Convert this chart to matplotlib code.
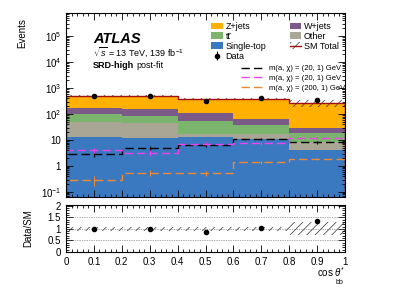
import numpy as np
import matplotlib
matplotlib.use("Agg")
import matplotlib.pyplot as plt
from matplotlib.patches import Patch
from matplotlib.lines import Line2D
from matplotlib.ticker import MultipleLocator, LogLocator, FixedLocator, FixedFormatter, NullFormatter

plt.rcParams['font.family'] = ['Liberation Sans', 'DejaVu Sans']
plt.rcParams['mathtext.fontset'] = 'custom'
plt.rcParams['mathtext.rm'] = 'Liberation Sans'
plt.rcParams['mathtext.it'] = 'Liberation Sans:italic'
plt.rcParams['hatch.linewidth'] = 0.5

# binning in cos theta*_bb
edges = [0.0, 0.2, 0.4, 0.6, 0.8, 1.0]
centers = [0.1, 0.3, 0.5, 0.7, 0.9]
xticklabels = ["0", "0.1", "0.2", "0.3", "0.4", "0.5", "0.6", "0.7", "0.8", "0.9", "1"]

# post-fit backgrounds (stacked bottom -> top)
single_top = [13.4, 12.4, 12.7, 11.0, 4.1]
other = [36.6, 31.6, 3.8, 6.0, 4.5]
ttbar = [50.0, 42.0, 38.5, 21.0, 9.7]
wjets = [75.0, 69.0, 52.0, 26.0, 9.7]
zjets = [325.0, 345.0, 273.0, 316.0, 237.0]
sm_rel_unc = [0.10, 0.10, 0.10, 0.10, 0.28]

data = [495.0, 505.0, 327.0, 402.0, 352.0]

# signals
sig_a = [2.9, 4.8, 6.2, 11.0, 8.2]      # (20, 1) black
sig_a_err = [0.7, 0.9, 1.0, 1.3, 1.2]
sig_b = [4.0, 3.2, 7.3, 7.4, 11.6]      # (20, 1) magenta
sig_b_err = [0.9, 0.8, 1.1, 1.1, 1.4]
sig_c = [0.29, 0.55, 0.52, 1.38, 1.8]   # (200, 1) orange
sig_c_err = [0.12, 0.12, 0.10, 0.15, 0.15]

bkgs = [
    ("Single-top", single_top, "#3a78c0"),
    ("Other", other, "#a9a696"),
    ("ttbar", ttbar, "#7bb46c"),
    ("W+jets", wjets, "#7c5a88"),
    ("Z+jets", zjets, "#ffb000"),
]

fig = plt.figure(figsize=(3.99, 2.88), dpi=100)
ax = fig.add_axes([66/399, 1-197/288, 279/399, 184/288])
rax = fig.add_axes([66/399, 1-252/288, 279/399, 47/288])

# stacked backgrounds
base = np.zeros(5)
patches = {}
for name, vals, col in bkgs:
    top = base + np.array(vals)
    ax.stairs(top, edges, baseline=base, fill=True, color=col, lw=0)
    patches[name] = Patch(facecolor=col, edgecolor='none')
    base = top
sm = base
unc = np.array(sm_rel_unc)

ax.stairs(sm*(1+unc), edges, baseline=sm*(1-unc), fill=True, facecolor='none',
          edgecolor='#333333', hatch='////', lw=0)
ax.stairs(sm, edges, color='#a01010', lw=1.0)

# signals
dash = (6, 3)
for vals, errs, col in [(sig_a, sig_a_err, 'black'), (sig_b, sig_b_err, '#ee44ee'),
                        (sig_c, sig_c_err, '#f08a30')]:
    ax.stairs(vals, edges, color=col, lw=1.0, linestyle=(0, dash))
    ax.errorbar(centers, vals, yerr=errs, fmt='none', ecolor=col, elinewidth=0.8)

# data
derr = np.sqrt(data)
dh = ax.errorbar(centers, data, yerr=derr, fmt='o', color='black', ms=3, elinewidth=0.8)

ax.set_yscale('log')
ax.set_ylim(0.064, 7.7e5)
ax.set_xlim(0, 1)
ax.yaxis.set_major_locator(FixedLocator([1e-1, 1, 10, 1e2, 1e3, 1e4, 1e5]))
ax.yaxis.set_major_formatter(FixedFormatter([r"$10^{-1}$", "1", "10", r"$10^{2}$",
                                             r"$10^{3}$", r"$10^{4}$", r"$10^{5}$"]))
ax.yaxis.set_minor_locator(LogLocator(base=10, subs=np.arange(2, 10), numticks=20))
ax.yaxis.set_minor_formatter(NullFormatter())
ax.xaxis.set_major_locator(MultipleLocator(0.1))
ax.xaxis.set_minor_locator(MultipleLocator(0.02))
ax.tick_params(labelbottom=False)

# ratio panel
ratio = np.array(data) / sm
rerr = derr / sm
rax.stairs(1+unc, edges, baseline=1-unc, fill=True, facecolor='none',
           edgecolor='#333333', hatch='////', lw=0)
for yv in [0.5, 1.0, 1.5]:
    rax.axhline(yv, color='#555555', lw=0.5, ls=(0, (1, 1.5)))
rax.errorbar(centers, ratio, yerr=rerr, fmt='o', color='black', ms=3, elinewidth=0.8)
rax.set_xlim(0, 1)
rax.set_ylim(0, 2.03)
rax.xaxis.set_major_locator(FixedLocator(np.linspace(0, 1, 11)))
rax.xaxis.set_major_formatter(FixedFormatter(xticklabels))
rax.xaxis.set_minor_locator(MultipleLocator(0.02))
rax.yaxis.set_major_locator(FixedLocator([0, 0.5, 1, 1.5, 2]))
rax.yaxis.set_major_formatter(FixedFormatter(["0", "0.5", "1", "1.5", "2"]))
rax.yaxis.set_minor_locator(MultipleLocator(0.1))

for a in (ax, rax):
    a.tick_params(which='both', direction='in', top=True, right=True, labelsize=7, width=0.6)
    a.tick_params(which='major', length=5)
    a.tick_params(which='minor', length=2.5)
    for s in a.spines.values():
        s.set_linewidth(0.8)

fig.text(22/399, 1-18/288, "Events", rotation=90, ha='center', va='top', fontsize=7)
fig.text(28/399, 1-228/288, "Data/SM", rotation=90, ha='center', va='center', fontsize=7)
fig.text(345/399, 1-272/288, r"cos $\theta^{*}$", ha='right', va='center', fontsize=7)
fig.text(339/399, 1-282/288, "bb", ha='center', va='center', fontsize=5)

fig.text(93/399, 1-39/288, "ATLAS", fontsize=10.5, fontweight='bold', fontstyle='italic',
         va='center')
fig.text(93/399, 1-52/288, r"$\sqrt{s}$ = 13 TeV, 139 fb$^{-1}$", fontsize=6.5, va='center')
fig.text(93/399, 1-66/288, "SRD-high", fontsize=6.5, fontweight='bold', va='center')
fig.text(136/399, 1-66/288, "post-fit", fontsize=6.5, va='center')

# legends
sm_handle = (Patch(facecolor='none', edgecolor='#333333', hatch='////', lw=0),
             Line2D([], [], color='#a01010', lw=1.0))
h1 = [patches["Z+jets"], patches["ttbar"], patches["Single-top"],
      patches["W+jets"], patches["Other"], sm_handle]
l1 = ["Z+jets", "tt\u0304", "Single-top", "W+jets", "Other", "SM Total"]
leg1 = ax.legend(h1, l1, ncol=2, loc='upper left', bbox_to_anchor=(211/399, 1-22/288),
                 bbox_transform=fig.transFigure, frameon=False, fontsize=6.5,
                 handlelength=1.3, handleheight=0.75, handletextpad=0.3,
                 columnspacing=2.6, labelspacing=0.1, borderpad=0, borderaxespad=0)
ax.add_artist(leg1)
leg2 = ax.legend([dh], ["Data"], loc='upper left', bbox_to_anchor=(211/399, 1-52/288),
                 bbox_transform=fig.transFigure, frameon=False, fontsize=6.5,
                 handlelength=1.3, handletextpad=0.3, borderpad=0, borderaxespad=0)
ax.add_artist(leg2)
sh = [Line2D([], [], color=c, lw=1.0, linestyle=(0, (6, 3))) for c in ['black', '#ee44ee', '#f08a30']]
sl = ["m(a, χ) = (20, 1) GeV", "m(a, χ) = (20, 1) GeV", "m(a, χ) = (200, 1) GeV"]
ax.legend(sh, sl, loc='upper right', bbox_to_anchor=(345/399, 1-65/288),
          bbox_transform=fig.transFigure, frameon=False, fontsize=5.5,
          handlelength=2.8, handletextpad=0.8, labelspacing=0.3, borderpad=0, borderaxespad=0)

fig.savefig("out.png", dpi=100)
